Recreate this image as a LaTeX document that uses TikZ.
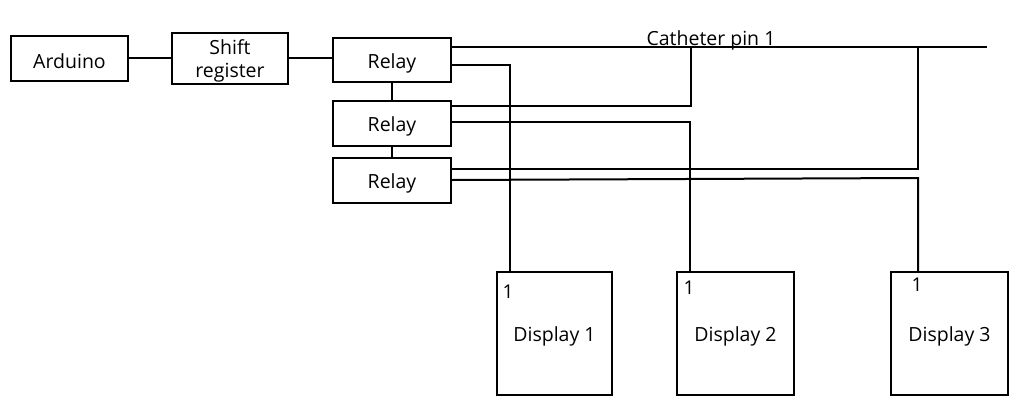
\documentclass[tikz,border=0pt]{standalone}
\usepackage{fontspec}
\setmainfont{Open Sans}
\newcommand\myfs{\fontsize{19.5}{25}\selectfont}
\newcommand\mysm{\fontsize{19}{21}\selectfont}
\newcommand\dn[1]{\raisebox{-3pt}[\height][\depth]{#1}}
\begin{document}
\begin{tikzpicture}[x=1pt,y=-1pt,line width=2pt,
  box/.style={draw, inner sep=0pt, align=center, font=\myfs},
  wire/.style={line width=2pt}]
\useasboundingbox (0,0) rectangle (1036,418);
% blocks
\node[box, minimum width=117pt, minimum height=45pt] (ard) at (69.5,58) {\dn{Arduino}};
\node[box, minimum width=116pt, minimum height=51pt] (sr) at (230,58) {\dn{\shortstack{Shift\\[6pt]register}}};
\node[box, minimum width=118pt, minimum height=44pt] (r1) at (392,60) {\dn{Relay}};
\node[box, minimum width=118pt, minimum height=45pt] (r2) at (392,123.5) {\dn{Relay}};
\node[box, minimum width=118pt, minimum height=45pt] (r3) at (392,180.5) {\dn{Relay}};
\node[box, minimum width=115pt, minimum height=123pt] (d1) at (554.5,333.5) {\dn{Display 1}};
\node[box, minimum width=117pt, minimum height=123pt] (d2) at (735.5,333.5) {\dn{Display 2}};
\node[box, minimum width=117pt, minimum height=123pt] (d3) at (949.5,333.5) {\dn{Display 3}};
% pin labels
\node[font=\mysm, inner sep=0pt] (p1) at (508,292) {1};
\node[font=\mysm, inner sep=0pt] (p2) at (689,288) {1};
\node[font=\mysm, inner sep=0pt] (p3) at (917,285) {1};
\node[font=\myfs, inner sep=0pt] (cat) at (711,40) {Catheter pin 1};
% junctions
\coordinate (j1) at (691,47);
\coordinate (j2) at (918,47);
\coordinate (busend) at (987,47);
% control chain
\draw[wire] (ard) -- (sr);
\draw[wire] (sr.east) -- (r1.west |- sr.east);
\draw[wire] (r1.south) -- (r2.north);
\draw[wire] (r2.south) -- (r3.north);
% bus
\draw[wire] (r1.east |- 0,47) -- (busend);
% relay 1
\draw[wire] (r1.east |- 0,65) -| (d1.north -| 510,0);
% relay 2
\draw[wire] (r2.east |- 0,106) -| (j1);
\draw[wire] (r2.east |- 0,122) -| (d2.north -| 690,0);
% relay 3
\draw[wire] (r3.east |- 0,169) -| (j2);
\draw[wire] (r3.east |- 0,180) -- (918,178) -- (d3.north -| 918,0);
\end{tikzpicture}
\end{document}
